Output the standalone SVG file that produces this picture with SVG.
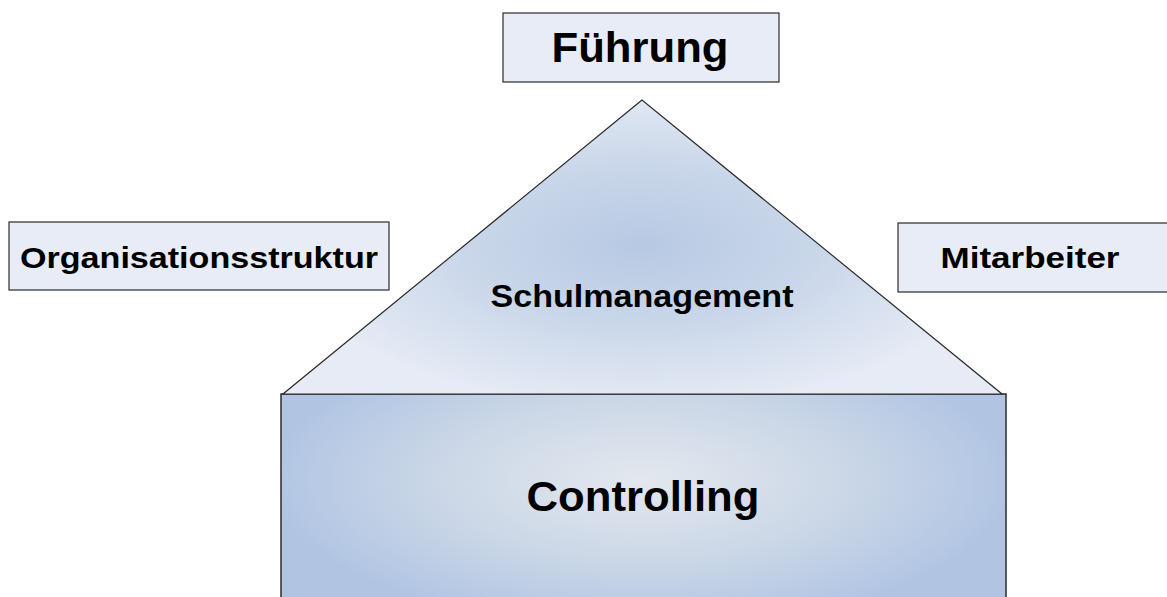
<svg xmlns="http://www.w3.org/2000/svg" width="1167" height="597" viewBox="0 0 1167 597">
  <style>
    .box { fill: #e7ecf7; stroke: #2b2b2b; stroke-width: 1.2; }
    .lbl { font-family: "Liberation Sans", Arial, sans-serif; font-weight: bold; fill: #000; text-anchor: middle; }
  </style>
  <defs>
    <radialGradient id="roofFill" gradientUnits="userSpaceOnUse" cx="642" cy="245" r="360" gradientTransform="translate(642 245) scale(1 0.45) translate(-642 -245)">
      <stop offset="0" stop-color="#b7c9e3"/>
      <stop offset="0.5" stop-color="#cad7ea"/>
      <stop offset="1" stop-color="#e6ebf5"/>
    </radialGradient>
    <radialGradient id="baseFill" gradientUnits="userSpaceOnUse" cx="642" cy="480" r="370" gradientTransform="translate(642 480) scale(1 0.4) translate(-642 -480)">
      <stop offset="0" stop-color="#e3e8ee"/>
      <stop offset="0.55" stop-color="#cbd7e7"/>
      <stop offset="1" stop-color="#b1c5e3"/>
    </radialGradient>
  </defs>

  <g id="controlling">
    <rect x="281" y="394" width="725" height="210" fill="url(#baseFill)" stroke="#2b2b2b" stroke-width="1.5"/>
    <text class="lbl" x="643" y="511" font-size="42" textLength="233" lengthAdjust="spacingAndGlyphs">Controlling</text>
  </g>

  <g id="schulmanagement">
    <path d="M642 100 L283 394 L1002 394 Z" fill="url(#roofFill)" stroke="#2b2b2b" stroke-width="1.2"/>
    <text class="lbl" x="642" y="307" font-size="31" textLength="303" lengthAdjust="spacingAndGlyphs">Schulmanagement</text>
  </g>

  <g id="fuehrung">
    <rect class="box" x="503" y="13" width="276" height="69"/>
    <text class="lbl" x="640" y="62" font-size="42" textLength="177" lengthAdjust="spacingAndGlyphs">Führung</text>
  </g>

  <g id="organisationsstruktur">
    <rect class="box" x="9" y="222" width="380" height="68"/>
    <text class="lbl" x="199" y="268" font-size="30" textLength="358" lengthAdjust="spacingAndGlyphs">Organisationsstruktur</text>
  </g>

  <g id="mitarbeiter">
    <rect class="box" x="898" y="223" width="275" height="69"/>
    <text class="lbl" x="1030" y="268" font-size="30" textLength="179" lengthAdjust="spacingAndGlyphs">Mitarbeiter</text>
  </g>

  <g id="connectors"/>
</svg>
